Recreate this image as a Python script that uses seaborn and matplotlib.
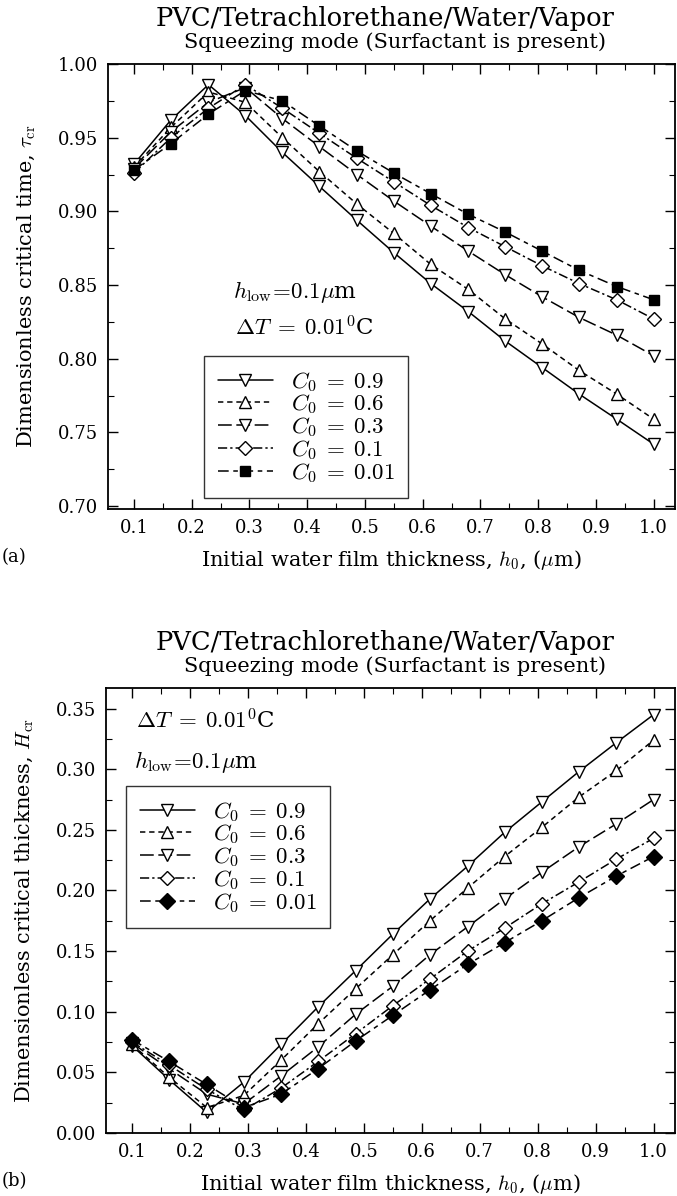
import numpy as np
import pandas as pd
import matplotlib
matplotlib.use("Agg")
import matplotlib.pyplot as plt
from matplotlib.ticker import MultipleLocator, FormatStrFormatter
import seaborn as sns

# initial film thickness h0 (um), 15 points
h0 = [0.1, 0.164, 0.229, 0.293, 0.357, 0.421, 0.486, 0.55, 0.614, 0.679, 0.743, 0.807, 0.871, 0.936, 1.0]
labels = ["0.9", "0.6", "0.3", "0.1", "0.01"]

# (a) dimensionless critical time
tau_09 = [0.932, 0.962, 0.986, 0.965, 0.940, 0.917, 0.894, 0.872, 0.851, 0.832, 0.812, 0.794, 0.776, 0.759, 0.742]
tau_06 = [0.930, 0.957, 0.981, 0.974, 0.950, 0.927, 0.905, 0.885, 0.864, 0.847, 0.827, 0.810, 0.792, 0.776, 0.759]
tau_03 = [0.929, 0.954, 0.974, 0.984, 0.963, 0.944, 0.925, 0.907, 0.890, 0.873, 0.857, 0.842, 0.828, 0.816, 0.802]
tau_01 = [0.926, 0.950, 0.970, 0.986, 0.970, 0.953, 0.936, 0.920, 0.904, 0.889, 0.876, 0.863, 0.851, 0.840, 0.827]
tau_001 = [0.928, 0.946, 0.966, 0.982, 0.975, 0.958, 0.941, 0.926, 0.912, 0.898, 0.886, 0.873, 0.860, 0.849, 0.840]

# (b) dimensionless critical thickness
H_09 = [0.072, 0.044, 0.017, 0.042, 0.073, 0.104, 0.134, 0.164, 0.193, 0.220, 0.248, 0.273, 0.298, 0.322, 0.345]
H_06 = [0.073, 0.046, 0.021, 0.031, 0.060, 0.090, 0.119, 0.147, 0.175, 0.202, 0.228, 0.252, 0.277, 0.299, 0.324]
H_03 = [0.074, 0.053, 0.032, 0.024, 0.047, 0.071, 0.098, 0.121, 0.147, 0.170, 0.193, 0.215, 0.236, 0.255, 0.275]
H_01 = [0.075, 0.056, 0.036, 0.019, 0.037, 0.059, 0.082, 0.105, 0.127, 0.150, 0.169, 0.189, 0.207, 0.226, 0.243]
H_001 = [0.077, 0.059, 0.040, 0.021, 0.032, 0.053, 0.076, 0.097, 0.118, 0.139, 0.157, 0.175, 0.194, 0.212, 0.228]

sns.set_style("ticks")
plt.rcParams['font.family'] = ['DejaVu Serif']
plt.rcParams['mathtext.fontset'] = 'cm'
for k in ['text.color', 'axes.labelcolor', 'xtick.color', 'ytick.color']:
    plt.rcParams[k] = 'black'

styles = [
    dict(ls='-', marker='v', mfc='white', ms=9),
    dict(ls=(0, (3.5, 2.5)), marker='^', mfc='white', ms=8.5),
    dict(ls=(0, (9, 3)), marker='v', mfc='white', ms=8.5),
    dict(ls=(0, (6, 2, 1.5, 2)), marker='D', mfc='white', ms=7.5),
    dict(ls=(0, (7, 3, 3, 3)), marker='s', mfc='black', ms=7),
]

fig = plt.figure(figsize=(6.77, 11.96), dpi=100)
ax1 = fig.add_axes([108/677, 1-509/1196, 567/677, 445/1196])
ax2 = fig.add_axes([106/677, 1-1133/1196, 569/677, 445/1196])


def draw(ax, series, last_marker):
    for i, (vals, lab) in enumerate(zip(series, labels)):
        st = dict(styles[i])
        if i == 4:
            st['marker'] = last_marker
            if last_marker == 'D':
                st['ms'] = 8
        sns.lineplot(x=h0, y=vals, ax=ax, color='black', lw=1.1,
                     linestyle=st['ls'], marker=st['marker'], markersize=st['ms'],
                     markerfacecolor=st['mfc'], markeredgecolor='black',
                     markeredgewidth=1.0, label=r'$C_0\;=\;%s$' % lab)
    ax.set_xlim(0.055, 1.037)
    ax.xaxis.set_major_locator(MultipleLocator(0.1))
    ax.xaxis.set_minor_locator(MultipleLocator(0.05))
    ax.yaxis.set_major_locator(MultipleLocator(0.05))
    ax.yaxis.set_minor_locator(MultipleLocator(0.025))
    ax.yaxis.set_major_formatter(FormatStrFormatter('%.2f'))
    ax.tick_params(which='both', direction='in', top=True, right=True, labelsize=13, pad=7)
    ax.tick_params(which='major', length=7, width=1.0)
    ax.tick_params(which='minor', length=4, width=0.8)
    for sp in ax.spines.values():
        sp.set_linewidth(1.3)
        sp.set_color('black')
    ax.set_xlabel(r'Initial water film thickness, $h_0$, ($\mu$m)', fontsize=15, labelpad=8)


def legend(ax, anchor):
    leg = ax.legend(loc='upper left', bbox_to_anchor=anchor, fontsize=16.5, frameon=True,
                    fancybox=False, edgecolor='black', handlelength=2.4, labelspacing=-0.05,
                    borderpad=0.6, handletextpad=0.8, borderaxespad=0.0)
    leg.get_frame().set_linewidth(1.0)


draw(ax1, [tau_09, tau_06, tau_03, tau_01, tau_001], 's')
ax1.set_ylim(0.698, 1.0)
ax1.set_ylabel(r'Dimensionless critical time, $\tau_{\rm cr}$', fontsize=15, labelpad=14)
ax1.text(0.22, 0.488, r'$h_{\rm low}\!=\!0.1\mu$m', transform=ax1.transAxes, fontsize=16.5, va='center')
ax1.text(0.224, 0.407, r'$\Delta T\;=\;0.01^0$C', transform=ax1.transAxes, fontsize=16.5, va='center')
legend(ax1, (0.169, 0.344))

draw(ax2, [H_09, H_06, H_03, H_01, H_001], 'D')
ax2.set_ylim(0.0, 0.367)
ax2.set_ylabel(r'Dimensionless critical thickness, $H_{\rm cr}$', fontsize=15, labelpad=14)
ax2.text(0.053, 0.926, r'$\Delta T\;=\;0.01^0$C', transform=ax2.transAxes, fontsize=16.5, va='center')
ax2.text(0.049, 0.834, r'$h_{\rm low}\!=\!0.1\mu$m', transform=ax2.transAxes, fontsize=16.5, va='center')
legend(ax2, (0.035, 0.78))

for y1, y2 in [(26, 48), (650, 672)]:
    fig.text(385/677, 1-y1/1196, 'PVC/Tetrachlorethane/Water/Vapor', ha='center', va='baseline', fontsize=18.5)
    fig.text(395/677, 1-y2/1196, 'Squeezing mode (Surfactant is present)', ha='center', va='baseline', fontsize=15)

fig.text(2/677, 1-557/1196, '(a)', ha='left', va='center', fontsize=13)
fig.text(2/677, 1-1181/1196, '(b)', ha='left', va='center', fontsize=13)

fig.savefig('out.png', dpi=100)
